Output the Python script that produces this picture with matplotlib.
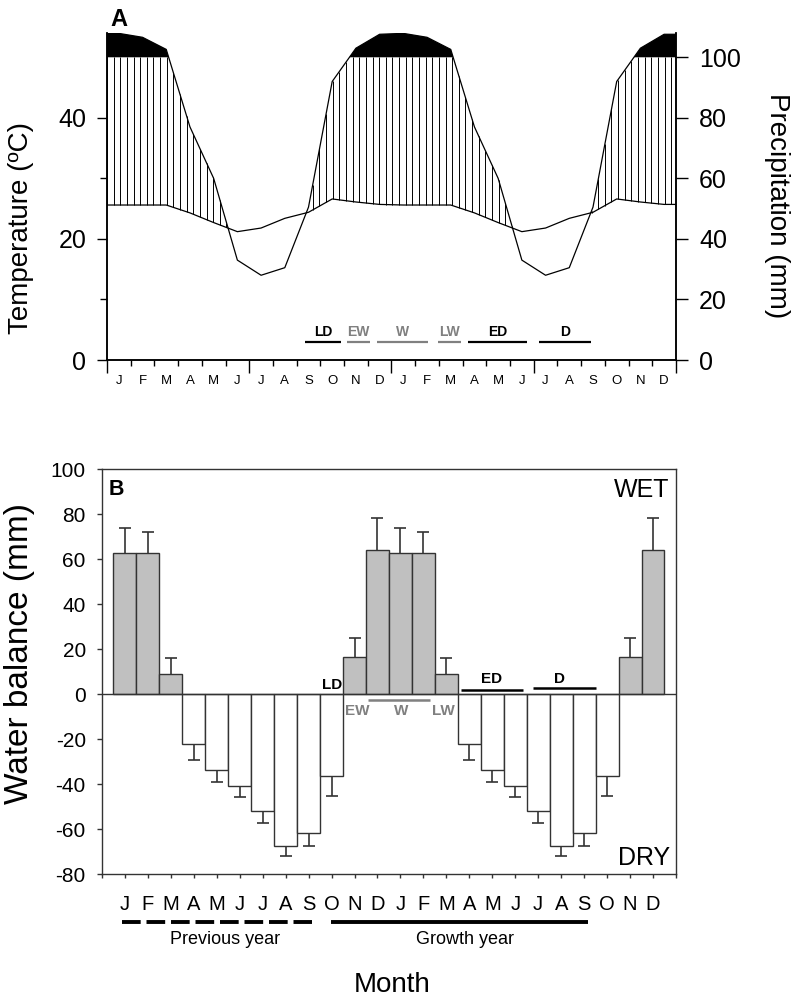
import numpy as np
import matplotlib.pyplot as plt

plt.rcParams['font.family'] = ['Liberation Sans', 'DejaVu Sans']
plt.rcParams['axes.unicode_minus'] = False

months = ['J', 'F', 'M', 'A', 'M', 'J', 'J', 'A', 'S', 'O', 'N', 'D']

# Panel A - mean monthly climate (same year drawn twice)
temp = [25.6, 25.6, 25.6, 24.3, 22.7, 21.2, 21.8, 23.4, 24.4, 26.6, 26.1, 25.7]   # deg C
precip = [179, 166, 126, 77, 60, 33, 28, 30.5, 50.5, 92, 130, 176]                # mm

# season periods in panel A (month units along the 24 month axis)
period_names = ['LD', 'EW', 'W', 'LW', 'ED', 'D']
period_start = [8.35, 10.12, 11.39, 13.96, 15.23, 18.22]
period_end = [9.87, 11.09, 13.54, 14.93, 17.71, 20.41]
period_grey = [False, True, True, True, False, False]

# Panel B - monthly water balance (mm), mean and SE
wb_mean = [62.8, 62.5, 9.0, -22.3, -33.7, -40.9, -52.0, -67.7, -61.9, -36.5, 16.4, 64.1]
wb_se = [10.8, 9.4, 7.1, 7.1, 5.5, 5.0, 5.2, 4.5, 5.6, 8.7, 8.6, 14.1]

GREY = '#808080'
EDGE = '#333333'

fig = plt.figure(figsize=(7.96, 10.02), dpi=100)

# ---------------- Panel A ----------------
ax = fig.add_axes([0.1344, 0.6407, 0.7148, 0.3263])
ax2 = ax.twinx()

t24 = np.array(temp * 2)
p24 = np.array(precip * 2, dtype=float)
x = np.r_[0, np.arange(24) + 0.5, 24]
T = np.r_[t24[0], t24, t24[-1]]
P = np.r_[p24[0], p24, p24[-1]]


def wl(p):
    # Walter-Lieth: above 100 mm the scale is reduced 10 times
    return np.where(p > 100, 100 + (p - 100) / 10.0, p)


Pw = wl(P)

# humid period hatching (between 2T and min(P, 100))
xs = np.arange(0, 24.001, 0.28)
th = np.interp(xs, x, 2 * T)
ph = np.minimum(np.interp(xs, x, Pw), 100)
m = ph > th
ax2.vlines(xs[m], th[m], ph[m], colors='black', lw=0.7)
ax2.fill_between(x, 100, Pw, where=Pw >= 100, interpolate=True, color='black', lw=0)

ax2.plot(x, Pw, color='black', lw=0.9)
ax.plot(x, T, color='black', lw=0.9)

ax.set_xlim(0, 24)
ax.set_ylim(0, 54)
ax2.set_ylim(0, 108)

for a in (ax, ax2):
    a.spines['top'].set_visible(False)
    for s in ('left', 'right', 'bottom'):
        a.spines[s].set_linewidth(1.1)

ax.set_yticks([0, 20, 40])
ax.set_yticks([10, 30], minor=True)
ax.tick_params(axis='y', which='major', length=7, width=1, labelsize=18, pad=8)
ax.tick_params(axis='y', which='minor', length=5, width=1)
ax2.set_yticks(range(0, 101, 20))
ax2.tick_params(axis='y', length=8.5, width=1, labelsize=18, pad=8)

ax.set_xticks([0, 6, 12, 18, 24])
ax.set_xticks(range(25), minor=True)
ax.set_xticklabels([])
ax.tick_params(axis='x', which='major', length=9, width=1)
ax.tick_params(axis='x', which='minor', length=4.5, width=1)
sec = ax.secondary_xaxis('bottom')
sec.set_xticks(np.arange(24) + 0.5, labels=months * 2)
sec.tick_params(length=0, pad=10.5, labelsize=9.5)
sec.spines['bottom'].set_visible(False)

for name, s0, s1, g in zip(period_names, period_start, period_end, period_grey):
    c = GREY if g else 'black'
    ax2.hlines(5.94, s0, s1, colors=c, lw=1.6)
    ax2.text((s0 + s1) / 2, 9.2, name, ha='center', va='center', color=c,
             fontsize=10, fontweight='bold')

fig.text(0.1382, 0.992, 'A', fontsize=17, fontweight='bold', ha='left', va='top')
fig.text(0.0264, 0.7724, 'Temperature (ºC)', rotation=90, fontsize=20, ha='center', va='center')
fig.text(0.976, 0.795, 'Precipitation (mm)', rotation=270, fontsize=20, ha='center', va='center')

# ---------------- Panel B ----------------
bx = fig.add_axes([0.1281, 0.1277, 0.7211, 0.4042])
xb = np.arange(1, 25)
vals = np.array(wb_mean * 2)
se = np.array(wb_se * 2)
tips = vals + np.sign(vals) * se
cols = np.where(vals > 0, '#c0c0c0', 'white')
bx.bar(xb, vals, width=1, color=cols, edgecolor=EDGE, lw=1, zorder=2)
# one-sided error bars (away from zero)
bx.vlines(xb, vals, tips, colors=EDGE, lw=1.2, zorder=1)
bx.plot(xb, tips, ls='none', marker='_', ms=8.6, mew=1.2, color=EDGE, zorder=1)
bx.axhline(0, color=EDGE, lw=1, zorder=3)

bx.set_xlim(0, 25)
bx.set_ylim(-80, 100)
bx.set_yticks(range(-80, 101, 20))
bx.set_xticks(range(26), labels=[''] + months * 2 + [''])
bx.tick_params(axis='y', length=3.6, width=1, labelsize=15, pad=8, color=EDGE)
bx.tick_params(axis='x', length=3, width=1, labelsize=14.5, pad=12, color=EDGE)
for s in bx.spines.values():
    s.set_color(EDGE)
    s.set_linewidth(1)

bx.text(0.012, 0.975, 'B', transform=bx.transAxes, fontsize=15.5, fontweight='bold',
        ha='left', va='top')
bx.text(24.7, 90.7, 'WET', fontsize=18, ha='right', va='center')
bx.text(24.75, -72.9, 'DRY', fontsize=18, ha='right', va='center')

# season labels in panel B
bx.text(10.48, 2.2, 'LD', fontsize=11, fontweight='bold', ha='right', va='baseline')
bx.text(11.13, -7.6, 'EW', fontsize=11, fontweight='bold', color=GREY, ha='center', va='center')
bx.text(13.04, -7.6, 'W', fontsize=11, fontweight='bold', color=GREY, ha='center', va='center')
bx.text(14.85, -7.6, 'LW', fontsize=11, fontweight='bold', color=GREY, ha='center', va='center')
bx.hlines(-2.7, 11.59, 14.29, colors=GREY, lw=1.8, zorder=4)
bx.text(16.99, 6.7, 'ED', fontsize=11, fontweight='bold', ha='center', va='center')
bx.hlines(1.8, 15.64, 18.34, colors='black', lw=1.8, zorder=4)
bx.text(19.93, 6.7, 'D', fontsize=11, fontweight='bold', ha='center', va='center')
bx.hlines(2.7, 18.76, 21.52, colors='black', lw=1.8, zorder=4)

# previous / growth year bars under the month axis
tr = bx.get_xaxis_transform()
bx.plot([0.87, 9.13], [-0.1185, -0.1185], transform=tr, clip_on=False, color='black',
        lw=2.8, dashes=(4.8, 1.5), solid_capstyle='butt', dash_capstyle='butt')
bx.plot([9.97, 21.17], [-0.1185, -0.1185], transform=tr, clip_on=False, color='black',
        lw=2.8, solid_capstyle='butt')
bx.text(5.36, -0.1625, 'Previous year', transform=tr, fontsize=13, ha='center', va='center')
bx.text(15.8, -0.1625, 'Growth year', transform=tr, fontsize=13, ha='center', va='center')

fig.text(0.025, 0.3483, 'Water balance (mm)', rotation=90, fontsize=24, ha='center', va='center')
fig.text(0.4925, 0.017, 'Month', fontsize=20, ha='center', va='center')

fig.savefig('out.png', dpi=100)
